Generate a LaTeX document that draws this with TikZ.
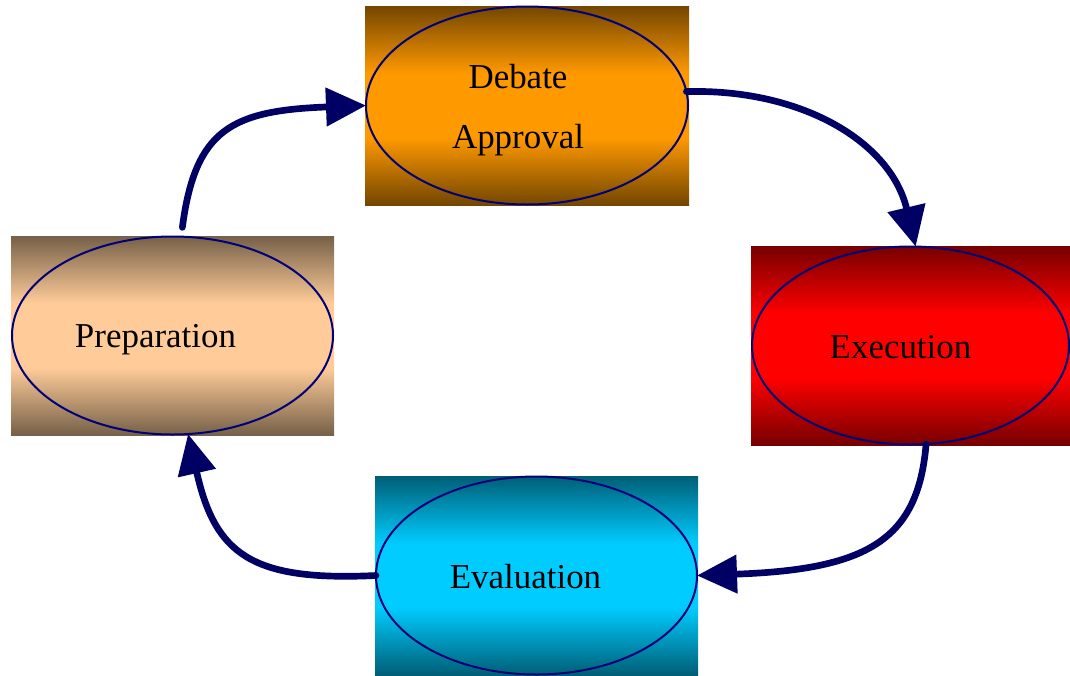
\documentclass[tikz,border=0pt]{standalone}
\usepackage{amsmath}
\usepackage{fontspec}
\setmainfont{Liberation Serif}
\usetikzlibrary{shapes.geometric,arrows.meta}

\definecolor{debDark}{RGB}{115,70,0}
\definecolor{debLight}{RGB}{255,153,0}
\definecolor{prepDark}{RGB}{118,96,72}
\definecolor{prepLight}{RGB}{255,204,153}
\definecolor{exeDark}{RGB}{118,0,0}
\definecolor{exeLight}{RGB}{255,0,0}
\definecolor{evalDark}{RGB}{0,94,118}
\definecolor{evalLight}{RGB}{0,204,255}
\colorlet{boxdark}{black}
\colorlet{boxlight}{white}
\pgfdeclareverticalshading[boxdark,boxlight]{band}{100bp}{color(0bp)=(boxdark); color(25bp)=(boxdark); color(42bp)=(boxlight); color(58bp)=(boxlight); color(75bp)=(boxdark); color(100bp)=(boxdark)}

\tikzset{
  box/.style 2 args={rectangle, inner sep=0pt, outer sep=0pt, minimum height=149.25pt,
    /utils/exec={\colorlet{boxdark}{#1}\colorlet{boxlight}{#2}}, shading=band},
  oval/.style={ellipse, draw={rgb, 255:red, 0; green, 0; blue, 120}, line width=1.5pt, inner sep=0pt, outer sep=0pt, minimum height=148.5pt},
  lbl/.style={anchor=base, inner sep=0pt, font=\fontsize{26.2}{45}\selectfont, align=center},
  flow/.style={draw={rgb, 255:red, 0; green, 0; blue, 100}, line width=5pt, line cap=round,
    -{Triangle[length=30pt, width=28pt, fill={rgb, 255:red, 0; green, 0; blue, 100}]}}
}

\begin{document}
\begin{tikzpicture}[x=0.75pt,y=0.75pt,yscale=-1,xscale=1]
        \useasboundingbox (0,0) rectangle (1070,675);

        %Shape: Rectangle [Debate]
        \node [box={debDark}{debLight}, minimum width=243pt] (debBox) at (527,105.5) {};
        %Shape: Rectangle [Preparation]
        \node [box={prepDark}{prepLight}, minimum width=242.25pt] (prepBox) at (172.5,335.5) {};
        %Shape: Rectangle [Execution]
        \node [box={exeDark}{exeLight}, minimum width=239.25pt] (exeBox) at (910.5,345.5) {};
        %Shape: Rectangle [Evaluation]
        \node [box={evalDark}{evalLight}, minimum width=242.25pt] (evalBox) at (536.5,575.5) {};

        %Shape: Ellipse
        \node [oval, minimum width=241.5pt] (debE) at (debBox) {};
        %Shape: Ellipse
        \node [oval, minimum width=240.75pt] (prepE) at (prepBox) {};
        %Shape: Ellipse
        \node [oval, minimum width=237.75pt] (exeE) at (exeBox) {};
        %Shape: Ellipse
        \node [oval, minimum width=240.75pt] (evalE) at (evalBox) {};

        % Text Node
        \node [lbl] (debT) at ([shift={(-6.75pt,31.9pt)}]debE.center) {Debate\\Approval};
        % Text Node
        \node [lbl] (prepT) at ([shift={(-12.75pt,9pt)}]prepE.center) {Preparation};
        % Text Node
        \node [lbl] (exeT) at ([shift={(-7.5pt,9.75pt)}]exeE.center) {Execution};
        % Text Node
        \node [lbl] (evalT) at ([shift={(-8.25pt,9.75pt)}]evalE.center) {Evaluation};

        %Curve Lines
        \draw [flow, shorten <=7pt] (prepE.85) .. controls +(14,-107) and +(-135,5) .. (debE.west) ;
        %Curve Lines
        \draw [flow] (debE.5) .. controls +(115,-3) and +(-25,-105) .. (exeE.87) ;
        %Curve Lines
        \draw [flow] (exeE.279) .. controls +(-8,95) and +(172,-6) .. (evalE.east) ;
        %Curve Lines
        \draw [flow] (evalE.west) .. controls +(-125,6) and +(27,120) .. (prepE.279) ;

\end{tikzpicture}
\end{document}
